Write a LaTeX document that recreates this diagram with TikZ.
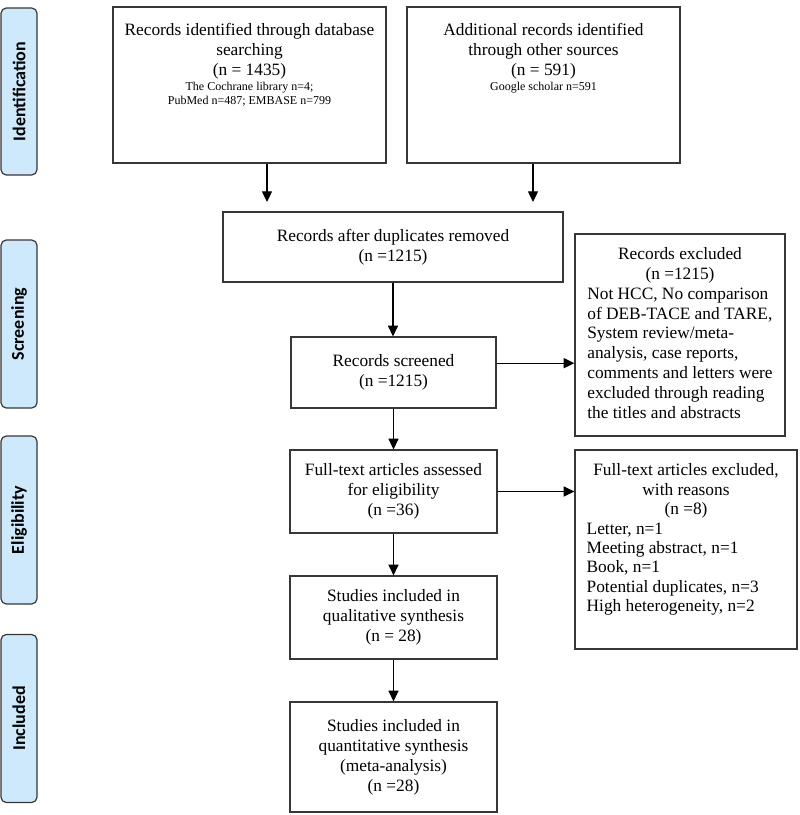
\documentclass[tikz,border=0pt]{standalone}
\usepackage{fontspec}
\setmainfont{Liberation Serif}
\newfontfamily\stagefont{Carlito}
\usetikzlibrary{arrows.meta}
\usetikzlibrary{positioning}

\definecolor{stageblue}{RGB}{205,233,251}
\definecolor{edgegray}{RGB}{55,55,55}
\newcommand{\centred}[1]{\multicolumn{1}{@{}c@{}}{#1}}

\tikzset{
  stage/.style={draw=edgegray, fill=stageblue, line width=.9pt, rounded corners=4pt, rotate=90,
    minimum height=27pt, inner sep=0pt, font=\stagefont\bfseries\fontsize{13.5}{16}\selectfont},
  flowbox/.style={draw=edgegray, line width=.9pt, inner sep=0pt, align=center,
    font=\fontsize{13}{15}\selectfont},
  boxtext/.style={inner sep=0pt, align=center, font=\fontsize{13}{15}\selectfont},
  smalltext/.style={inner sep=0pt, align=center, font=\fontsize{9}{10.5}\selectfont},
  arr/.style={draw=black, line width=.9pt, -{Triangle[length=8pt,width=7.5pt]}},
}

\begin{document}
\begin{tikzpicture}[x=0.75pt,y=-0.75pt]
\useasboundingbox (0,0) rectangle (800,815);

% stage labels
\node[stage, minimum width=125.25pt] (ident) at (19,91.5) {Identification};
\node[stage, minimum width=126pt] (screen) at (19,324) {Screening};
\node[stage, minimum width=126pt] (elig) at (19,520) {Eligibility};
\node[stage, minimum width=126pt] (incl) at (19,718.5) {Included};

% identification
\node[flowbox, minimum width=204.75pt, minimum height=117pt] (db) at (249.5,85) {};
\node[boxtext, below=12.5pt of db.north] (dbtxt) {Records identified through database\\searching\\(n = 1435)};
\node[smalltext, below=1.5pt of dbtxt] (dbsub) {The Cochrane library n=4;\\PubMed n=487; EMBASE n=799};

\node[flowbox, minimum width=204.75pt, minimum height=117pt] (other) at (543.5,85) {};
\node[boxtext, below=12.5pt of other.north] (othertxt) {Additional records identified\\through other sources\\(n = 591)};
\node[smalltext, below=1.5pt of othertxt] (othersub) {Google scholar n=591};

% screening
\node[flowbox, minimum width=255pt, minimum height=52.5pt] (dup) at (393,247) {Records after duplicates removed\\(n =1215)};
\node[flowbox, minimum width=153.75pt, minimum height=53.25pt] (scr) at (393.5,372.5) {Records screened\\(n =1215)};
\node[flowbox, minimum width=157.5pt, minimum height=151.5pt] (excl) at (680,335) {%
  \renewcommand{\arraystretch}{0.99}%
  \begin{tabular}{@{}l@{}}
  \centred{Records excluded}\\
  \centred{(n =1215)}\\
  Not HCC, No comparison\\
  of DEB-TACE and TARE,\\
  System review/meta-\\
  analysis, case reports,\\
  comments and letters were\\
  excluded through reading\\
  the titles and abstracts
  \end{tabular}};

% eligibility
\node[flowbox, minimum width=155.25pt, minimum height=62.25pt] (full) at (393.5,491.5) {Full-text articles assessed\\for eligibility\\(n =36)};
\node[flowbox, minimum width=166.5pt, minimum height=149.25pt] (fexcl) at (686,549.5) {};
\node[boxtext, below=9.5pt of fexcl.north] (fexcltxt) {%
  \renewcommand{\arraystretch}{0.97}%
  \begin{tabular}{@{\hspace{-5pt}}l@{}}
  \centred{Full-text articles excluded,}\\
  \centred{with reasons}\\
  \centred{(n =8)}\\
  Letter, n=1\\
  Meeting abstract, n=1\\
  Book, n=1\\
  Potential duplicates, n=3\\
  High heterogeneity, n=2
  \end{tabular}};
\node[flowbox, minimum width=155.25pt, minimum height=62.25pt] (qual) at (393.5,617.5) {Studies included in\\qualitative synthesis\\(n = 28)};

% included
\node[flowbox, minimum width=155.25pt, minimum height=82.5pt] (quant) at (393.5,757) {Studies included in\\quantitative synthesis\\(meta-analysis)\\(n =28)};

% arrows
\coordinate (dbin) at (267,202);
\coordinate (otherin) at (533,202);
\coordinate (scrout) at ([yshift=7pt]scr.east);
\draw[arr] (dbin |- db.south) -- (dbin);
\draw[arr] (otherin |- other.south) -- (otherin);
\draw[arr] (dup.south) -- (dup.south |- scr.north);
\draw[arr] (scrout) -- (scrout -| excl.west);
\draw[arr] (scr.south) -- (scr.south |- full.north);
\draw[arr] (full.east) -- (full.east -| fexcl.west);
\draw[arr] (full.south) -- (full.south |- qual.north);
\draw[arr] (qual.south) -- (qual.south |- quant.north);
\end{tikzpicture}
\end{document}
